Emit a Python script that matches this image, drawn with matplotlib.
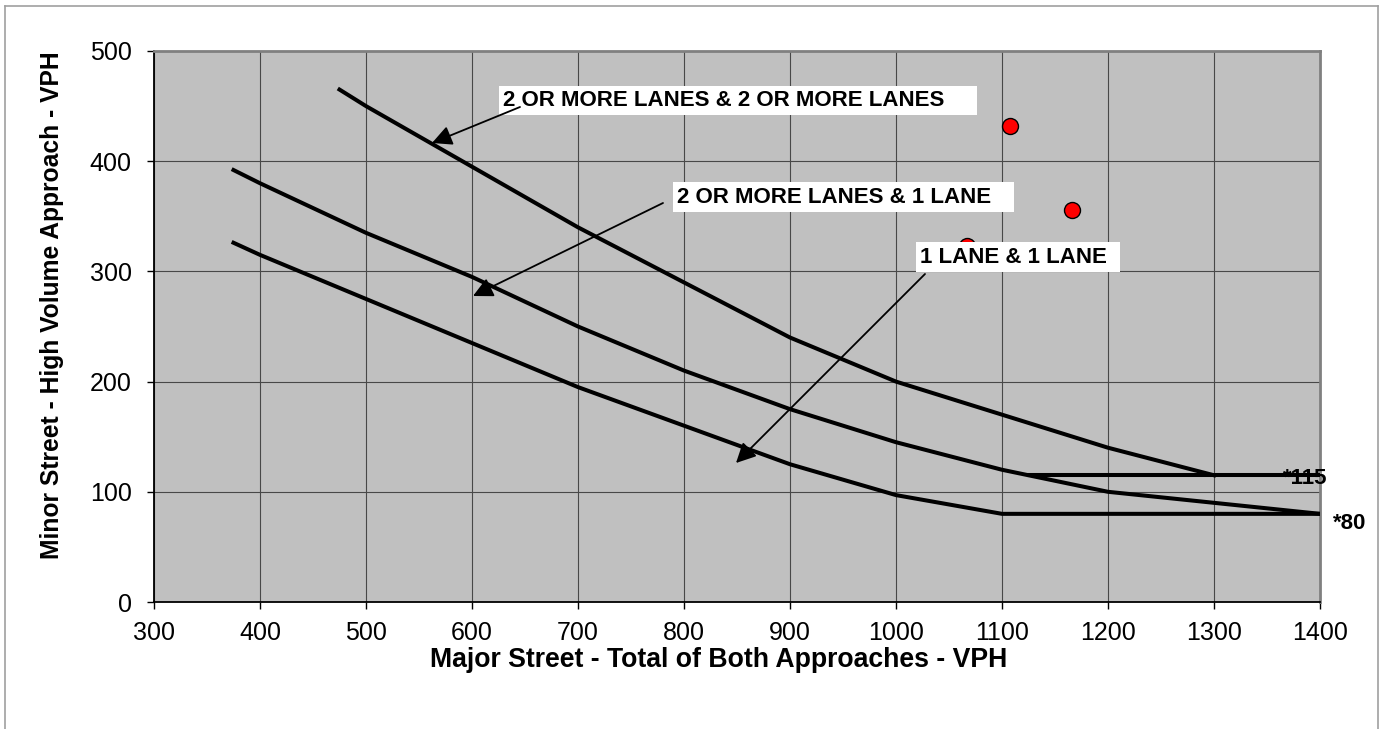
"""
Warrant chart: minor street high-volume approach vs major street total volume,
with the three lane-configuration curves and the observed hourly points.
"""
import matplotlib
matplotlib.use('Agg')
import matplotlib.pyplot as plt
from matplotlib.patches import Rectangle
from matplotlib.lines import Line2D

plt.rcParams['font.family'] = ['Liberation Sans', 'DejaVu Sans']

# curve data (major street vph, minor street vph)
x_two_two = [475, 500, 600, 700, 800, 900, 1000, 1100, 1200, 1300]
y_two_two = [465, 450, 395, 340, 290, 240, 200, 170, 140, 115]

x_two_one = [375, 400, 500, 600, 700, 800, 900, 1000, 1100, 1200, 1300, 1400]
y_two_one = [392, 380, 335, 295, 250, 210, 175, 145, 120, 100, 90, 80]

x_one_one = [375, 400, 500, 600, 700, 800, 900, 1000, 1100, 1400]
y_one_one = [326, 315, 275, 235, 195, 160, 125, 97, 80, 80]

# lower threshold line for the 2+ lane curve
x_floor = [1125, 1400]
y_floor = [115, 115]

# observed counts
x_obs = [1108, 1166, 1067]
y_obs = [432, 356, 323]

labels = ['2 OR MORE LANES & 2 OR MORE LANES', '2 OR MORE LANES & 1 LANE', '1 LANE & 1 LANE']
floor_labels = ['*115', '*80']

fig = plt.figure(figsize=(13.84, 7.29), dpi=100)
ax = fig.add_axes([154 / 1384, 1 - 602 / 729, (1320 - 154) / 1384, (602 - 51) / 729])
ax.set_facecolor('#c0c0c0')

ax.set_xlim(300, 1400)
ax.set_ylim(0, 500)
ax.set_xticks(range(300, 1401, 100))
ax.set_yticks(range(0, 501, 100))
ax.grid(True, color='#484848', linewidth=0.8)
ax.set_axisbelow(True)

ax.tick_params(axis='both', labelsize=18, length=5, width=1, color='black')
ax.tick_params(axis='y', pad=11)
ax.tick_params(axis='x', pad=9)

for s in ['left', 'bottom']:
    ax.spines[s].set_color('black')
    ax.spines[s].set_linewidth(1.3)
for s in ['top', 'right']:
    ax.spines[s].set_color('#808080')
    ax.spines[s].set_linewidth(2)

lw = 2.9
ax.plot(x_two_two, y_two_two, color='black', lw=lw, zorder=3)
ax.plot(x_two_one, y_two_one, color='black', lw=lw, zorder=3)
ax.plot(x_one_one, y_one_one, color='black', lw=lw, zorder=3)
ax.plot(x_floor, y_floor, color='black', lw=lw, zorder=3)

ax.plot(x_obs, y_obs, 'o', color='red', markersize=11.5, markeredgecolor='black',
        markeredgewidth=1, zorder=4)

# label boxes (px positions converted to data)
def px2data(px, py):
    return 300 + (px - 154) / 1.06, (602 - py) / 1.102

boxes = [(499, 86, 977, 115), (673, 182, 1014, 212), (916, 242, 1120, 272)]
for (x0, y0, x1, y1), lab in zip(boxes, labels):
    dx0, dy1 = px2data(x0, y0)
    dx1, dy0 = px2data(x1, y1)
    ax.add_patch(Rectangle((dx0, dy0), dx1 - dx0, dy1 - dy0, facecolor='white',
                           edgecolor='none', zorder=5))
    tx, _ = px2data(x0 + 4, 0)
    ax.text(tx, (dy0 + dy1) / 2, lab, fontsize=16, fontweight='bold',
            ha='left', va='center', zorder=6)

# arrows: (tail px, tip px)
arrows = [((520, 107), (432, 143)), ((663, 203), (473, 296)), ((925, 274), (736, 463))]
for tail, tip in arrows:
    ax.annotate('', xy=px2data(*tip), xytext=px2data(*tail),
                arrowprops=dict(arrowstyle='-|>', color='black', lw=1.3,
                                mutation_scale=30, shrinkA=0, shrinkB=0),
                zorder=7)

ax.text(1365, 112, floor_labels[0], fontsize=16, fontweight='bold', ha='left',
        va='center', clip_on=False, zorder=6)
ax.text(1412, 71, floor_labels[1], fontsize=16, fontweight='bold', ha='left',
        va='center', clip_on=False, zorder=6)

fig.text(52 / 1384, 1 - 305 / 729, 'Minor Street - High Volume Approach - VPH',
         rotation=90, fontsize=17.7, fontweight='bold', ha='center', va='center')
fig.text(719 / 1384, 1 - 660 / 729, 'Major Street - Total of Both Approaches - VPH',
         fontsize=19.2, fontweight='bold', ha='center', va='center')

# outer frame
fc = '#a0a0a0'
fig.add_artist(Line2D([5 / 1384, 5 / 1384], [0, 1 - 6 / 729], color=fc, lw=1.2))
fig.add_artist(Line2D([5 / 1384, 1378 / 1384], [1 - 6 / 729, 1 - 6 / 729], color=fc, lw=1.2))
fig.add_artist(Line2D([1378 / 1384, 1378 / 1384], [0, 1 - 6 / 729], color=fc, lw=1.2))

fig.savefig('out.png', dpi=100)
